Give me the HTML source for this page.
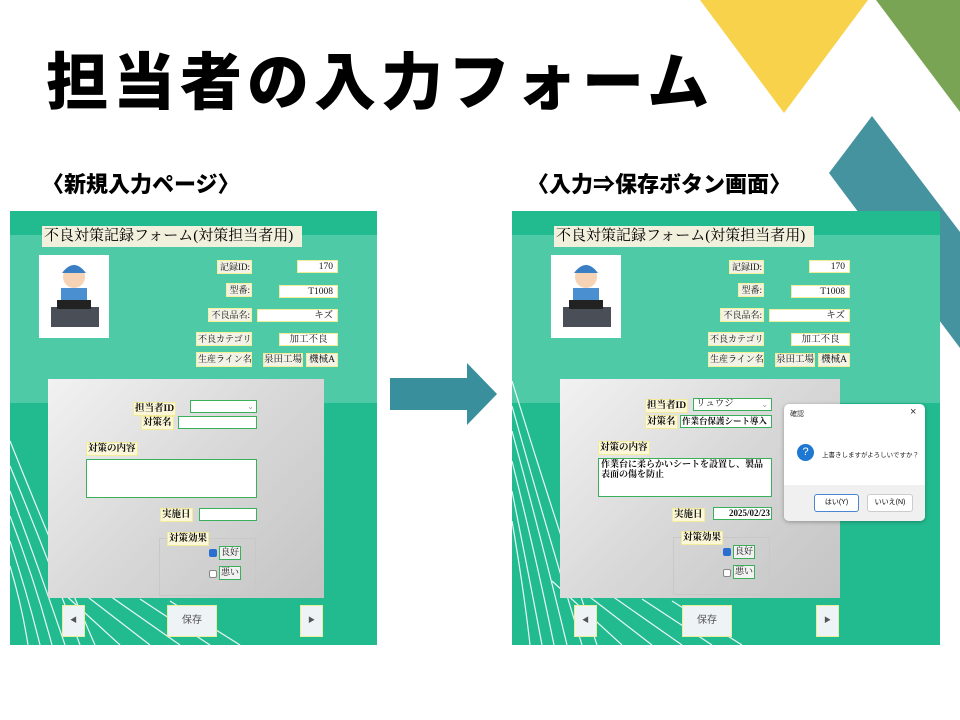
<!DOCTYPE html>
<html><head><meta charset="utf-8"><style>
*{margin:0;padding:0;box-sizing:border-box}
body{width:960px;height:720px;background:#fff;position:relative;overflow:hidden;font-family:"Liberation Serif","Noto Serif CJK SC",serif}
.a{position:absolute}
.h{font-family:"Liberation Sans","Noto Sans CJK JP",sans-serif;font-weight:900;color:#000;white-space:nowrap}
.panel{position:absolute;background:#22bb90;overflow:hidden}
.band{position:absolute;left:0;right:0;top:24px;height:168px;background:#4fcaa6}
.f{position:absolute;left:0;top:0;width:960px;height:720px}
.lb{position:absolute;background:#f2f2e6;border:1px solid #f3f19a;font-size:9px;line-height:12px;text-align:right;padding:0 1px;white-space:nowrap;color:#111;overflow:hidden}
.v{position:absolute;background:#fff;border:1px solid #f0ee9a;font-size:9.5px;line-height:12px;text-align:right;padding:0 4px;white-space:nowrap;color:#111;overflow:hidden}
.gl{position:absolute;background:#fbf7d8;border:1px solid #f2ec9a;font-size:9.5px;font-weight:bold;line-height:12px;padding:0 1px;white-space:nowrap;color:#111}
.in{position:absolute;background:#fff;border:1.5px solid #3bb05a;font-size:9.5px;line-height:11px;padding:0 2px;white-space:nowrap;color:#111;overflow:hidden}
.btn{position:absolute;background:#eef3f6;border:1px solid #e7ef9a;font-size:10px;color:#555;text-align:center;font-family:"Liberation Sans","Noto Sans CJK JP",sans-serif}
.title{position:absolute;left:42px;top:226px;width:260px;height:21px;background:#f0f0dc;font-size:15px;line-height:21px;padding-left:2px;white-space:nowrap;overflow:hidden}
</style></head><body>

<svg class="a" style="left:0;top:0" width="960" height="720">
<polygon points="700,0 868,0 784,113" fill="#f7d24a"/>
<polygon points="876,0 960,0 960,112" fill="#78a453"/>
<polygon points="872,116 960,232 960,348 829,173" fill="#45939f"/>
<polygon points="390,378 467,378 467,363 497,394 467,425 467,410 390,410" fill="#3a8f9c"/>
</svg>

<div class="a h" style="left:46px;top:46px;font-size:62px;line-height:76px;letter-spacing:5px">担当者の入力フォーム</div>
<div class="a h" style="left:42px;top:170px;font-size:22px;line-height:30px">〈新規入力ページ〉</div>
<div class="a h" style="left:527px;top:170px;font-size:22px;line-height:30px">〈入力⇒保存ボタン画面〉</div>

<div class="panel" style="left:10px;top:211px;width:367px;height:434px"><div class="band"></div>
<svg class="a" style="left:0;top:0" width="367" height="434"><g stroke="#fff" stroke-width="1.2" fill="none" opacity="0.9">
<path d="M0,230 Q40,330 85,434"/><path d="M0,255 Q35,340 70,434"/><path d="M0,280 Q30,360 55,434"/><path d="M0,305 Q25,370 42,434"/><path d="M0,330 Q18,385 30,434"/><path d="M0,355 Q12,395 18,434"/>
<path d="M40,370 L110,434"/><path d="M70,380 L140,434"/><path d="M100,385 L170,434"/><path d="M130,388 L200,434"/><path d="M160,390 L230,434"/>
</g></svg></div>
<div class="panel" style="left:512px;top:211px;width:428px;height:434px"><div class="band"></div>
<svg class="a" style="left:0;top:0" width="428" height="434"><g stroke="#fff" stroke-width="1.2" fill="none" opacity="0.9">
<path d="M0,170 Q40,300 85,434"/><path d="M0,195 Q35,320 70,434"/><path d="M0,220 Q30,330 55,434"/><path d="M0,250 Q25,350 42,434"/><path d="M0,280 Q18,370 30,434"/><path d="M0,310 Q12,380 18,434"/>
<path d="M40,370 L110,434"/><path d="M70,380 L140,434"/><path d="M100,385 L170,434"/><path d="M130,388 L200,434"/><path d="M160,390 L230,434"/>
</g></svg></div>

<!-- LEFT FORM -->
<div class="f">
<div class="title">不良対策記録フォーム(対策担当者用)</div>
<div class="a" style="left:39px;top:255px;width:70px;height:83px;background:#fff">
<svg width="70" height="83"><circle cx="35" cy="22" r="11" fill="#f6d3b5"/><path d="M23,18 Q35,2 47,18 Z" fill="#3a7fc4"/><rect x="22" y="33" width="26" height="20" fill="#4a8fd0"/><rect x="12" y="52" width="48" height="20" fill="#4a4f57"/><rect x="18" y="45" width="34" height="9" fill="#222"/></svg></div>
<div class="lb" style="left:217px;top:260px;width:35px;height:14px">記録ID:</div><div class="v" style="left:297px;top:260px;width:41px;height:13px">170</div>
<div class="lb" style="left:226px;top:283px;width:26px;height:14px">型番:</div><div class="v" style="left:279px;top:285px;width:59px;height:13px">T1008</div>
<div class="lb" style="left:208px;top:308px;width:44px;height:14px">不良品名:</div><div class="v" style="left:257px;top:309px;width:81px;height:13px">キズ</div>
<div class="lb" style="left:196px;top:332px;width:56px;height:14px">不良カテゴリ:</div><div class="v" style="left:279px;top:333px;width:59px;height:13px;text-align:center">加工不良</div>
<div class="lb" style="left:196px;top:352px;width:56px;height:15px">生産ライン名:</div><div class="v" style="left:263px;top:353px;width:40px;height:14px;background:#f2f2e6;text-align:center;padding:0">泉田工場</div><div class="v" style="left:306px;top:353px;width:32px;height:14px;background:#f2f2e6;text-align:center;padding:0">機械A</div>
<div class="a" style="left:48px;top:379px;width:276px;height:219px;background:linear-gradient(135deg,#f2f2f2,#d8d8d8 50%,#c4c4c4)"></div>
<div class="gl" style="left:133px;top:402px">担当者ID</div><div class="in" style="left:190px;top:400px;width:67px;height:13px;text-align:right;color:#999;font-size:8px">⌄</div>
<div class="gl" style="left:141px;top:416px">対策名</div><div class="in" style="left:178px;top:416px;width:79px;height:13px"></div>
<div class="gl" style="left:86px;top:442px">対策の内容</div><div class="in" style="left:86px;top:459px;width:171px;height:39px"></div>
<div class="gl" style="left:160px;top:508px">実施日</div><div class="in" style="left:199px;top:508px;width:58px;height:13px"></div>
<div class="a" style="left:159px;top:538px;width:97px;height:58px;border:1px solid #c8c8c8"></div>
<div class="gl" style="left:167px;top:532px">対策効果</div>
<div class="a" style="left:209px;top:549px;width:8px;height:8px;background:#2a6fd0;border-radius:2px"></div><div class="in" style="left:219px;top:546px;width:22px;height:14px;background:#f2f2f2;font-size:9px;padding:0 1px">良好</div>
<div class="a" style="left:209px;top:570px;width:8px;height:8px;background:#fff;border:1px solid #888;border-radius:2px"></div><div class="in" style="left:219px;top:566px;width:22px;height:14px;background:#f2f2f2;font-size:9px;padding:0 1px">悪い</div>
<div class="btn" style="left:62px;top:605px;width:23px;height:32px;line-height:30px;font-size:7px">◀</div>
<div class="btn" style="left:167px;top:605px;width:50px;height:32px;line-height:30px">保存</div>
<div class="btn" style="left:300px;top:605px;width:23px;height:32px;line-height:30px;font-size:7px">▶</div>
</div>

<!-- RIGHT FORM -->
<div class="f" style="left:512px">
<div class="title">不良対策記録フォーム(対策担当者用)</div>
<div class="a" style="left:39px;top:255px;width:70px;height:83px;background:#fff">
<svg width="70" height="83"><circle cx="35" cy="22" r="11" fill="#f6d3b5"/><path d="M23,18 Q35,2 47,18 Z" fill="#3a7fc4"/><rect x="22" y="33" width="26" height="20" fill="#4a8fd0"/><rect x="12" y="52" width="48" height="20" fill="#4a4f57"/><rect x="18" y="45" width="34" height="9" fill="#222"/></svg></div>
<div class="lb" style="left:217px;top:260px;width:35px;height:14px">記録ID:</div><div class="v" style="left:297px;top:260px;width:41px;height:13px">170</div>
<div class="lb" style="left:226px;top:283px;width:26px;height:14px">型番:</div><div class="v" style="left:279px;top:285px;width:59px;height:13px">T1008</div>
<div class="lb" style="left:208px;top:308px;width:44px;height:14px">不良品名:</div><div class="v" style="left:257px;top:309px;width:81px;height:13px">キズ</div>
<div class="lb" style="left:196px;top:332px;width:56px;height:14px">不良カテゴリ:</div><div class="v" style="left:279px;top:333px;width:59px;height:13px;text-align:center">加工不良</div>
<div class="lb" style="left:196px;top:352px;width:56px;height:15px">生産ライン名:</div><div class="v" style="left:263px;top:353px;width:40px;height:14px;background:#f2f2e6;text-align:center;padding:0">泉田工場</div><div class="v" style="left:306px;top:353px;width:32px;height:14px;background:#f2f2e6;text-align:center;padding:0">機械A</div>
<div class="a" style="left:48px;top:379px;width:280px;height:219px;background:linear-gradient(135deg,#f2f2f2,#d8d8d8 50%,#c4c4c4)"></div>
<div class="gl" style="left:133px;top:399px">担当者ID</div><div class="in" style="left:181px;top:398px;width:79px;height:13px">リュウジ<span style="position:absolute;right:3px;color:#999;font-size:8px">⌄</span></div>
<div class="gl" style="left:133px;top:415px">対策名</div><div class="in" style="left:168px;top:415px;width:92px;height:13px;font-weight:bold;font-size:8.5px;padding:0 1px">作業台保護シート導入</div>
<div class="gl" style="left:86px;top:441px">対策の内容</div><div class="in" style="left:86px;top:458px;width:174px;height:39px;white-space:normal;line-height:10px;font-weight:bold;font-size:9px">作業台に柔らかいシートを設置し、製品表面の傷を防止</div>
<div class="gl" style="left:160px;top:508px">実施日</div><div class="in" style="left:201px;top:507px;width:59px;height:13px;text-align:right;font-weight:bold;font-size:9px;padding:0 1px">2025/02/23</div>
<div class="a" style="left:161px;top:537px;width:97px;height:58px;border:1px solid #c8c8c8"></div>
<div class="gl" style="left:169px;top:531px">対策効果</div>
<div class="a" style="left:211px;top:548px;width:8px;height:8px;background:#2a6fd0;border-radius:2px"></div><div class="in" style="left:221px;top:545px;width:22px;height:14px;background:#f2f2f2;font-size:9px;padding:0 1px">良好</div>
<div class="a" style="left:211px;top:569px;width:8px;height:8px;background:#fff;border:1px solid #888;border-radius:2px"></div><div class="in" style="left:221px;top:565px;width:22px;height:14px;background:#f2f2f2;font-size:9px;padding:0 1px">悪い</div>
<div class="btn" style="left:62px;top:605px;width:23px;height:32px;line-height:30px;font-size:7px">◀</div>
<div class="btn" style="left:170px;top:605px;width:50px;height:32px;line-height:30px">保存</div>
<div class="btn" style="left:304px;top:605px;width:23px;height:32px;line-height:30px;font-size:7px">▶</div>
</div>

<!-- dialog -->
<div class="a" style="left:784px;top:404px;width:141px;height:117px;background:#fff;border-radius:5px;box-shadow:0 1px 4px rgba(0,0,0,.3);overflow:hidden;font-family:'Liberation Sans','Noto Sans CJK JP',sans-serif">
<div class="a" style="left:6px;top:5px;font-size:7px;color:#333">確認</div>
<div class="a" style="left:126px;top:2px;font-size:11px;color:#333">×</div>
<div class="a" style="left:13px;top:40px;width:17px;height:17px;border-radius:50%;background:#1e78d2;color:#fff;font-size:11px;text-align:center;line-height:17px">?</div>
<div class="a" style="left:38px;top:45px;font-size:6.5px;color:#222;white-space:nowrap">上書きしますがよろしいですか？</div>
<div class="a" style="left:0;top:81px;width:141px;height:36px;background:#f0f0f0"></div>
<div class="a" style="left:30px;top:90px;width:45px;height:18px;border:1px solid #4a86d0;border-radius:3px;background:#fff;font-size:7px;text-align:center;line-height:16px">はい(Y)</div>
<div class="a" style="left:83px;top:90px;width:46px;height:18px;border:1px solid #ccc;border-radius:3px;background:#fff;font-size:7px;text-align:center;line-height:16px">いいえ(N)</div>
</div>
</body></html>
